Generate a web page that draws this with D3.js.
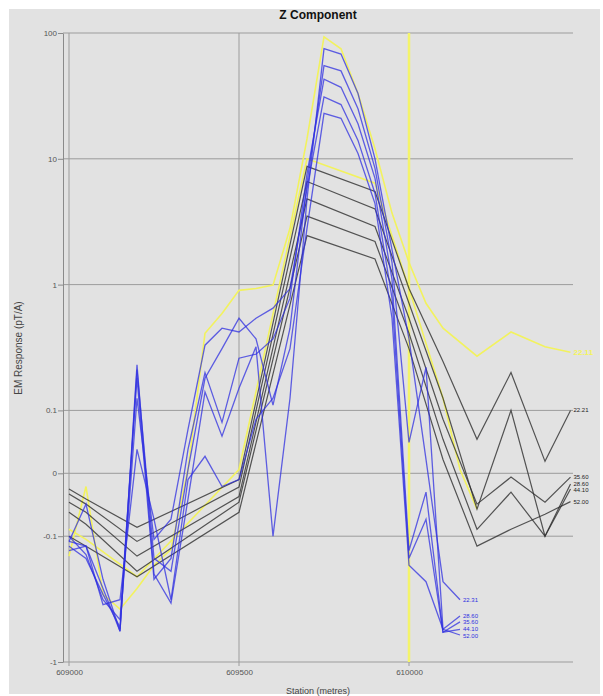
<!DOCTYPE html>
<html>
<head>
<meta charset="utf-8">
<script src="https://d3js.org/d3.v7.min.js"></script>
<style>
body { margin: 0; background: #fff; }
text { font-family: "Liberation Sans", Arial, sans-serif; }
</style>
</head>
<body>
<svg width="603" height="696"></svg>
<script>
// axis ticks
var yTicks = [100, 10, 1, 0.1, 0, -0.1, -1];
var yTickLabels = ["100", "10", "1", "0.1", "0", "-0.1", "-1"];
var xTicks = [609000, 609500, 610000];

// blue channels (late time)
var blueStations = [609000, 609050, 609100, 609150, 609200, 609250, 609300, 609350, 609400, 609450,
  609500, 609550, 609600, 609650, 609700, 609750, 609800, 609850, 609900, 609950,
  610000, 610050, 610100, 610150];
var blue1 = [-0.11, -0.049, -0.22, -0.57, 0.23, -0.20, -0.34, -0.041, 0.14, 0.059,
  0.15, 0.32, -0.10, 0.125, 4.8, 75, 68, 33, 10, 1.9, 0.37, 0.022, -0.23, -0.32];
var blue2 = [-0.11, -0.12, -0.26, -0.57, 0.21, -0.15, -0.19, 0.006, 0.18, 0.31,
  0.54, 0.37, 0.11, 0.45, 6.4, 55, 50, 25, 8.4, 1.5, 0.049, 0.22, -0.55, -0.43];
var blue3 = [-0.10, -0.14, -0.32, -0.46, 0.18, -0.22, -0.15, 0.038, 0.20, 0.081,
  0.26, 0.28, 0.37, 0.78, 7.6, 43, 37, 19, 7.0, 1.1, -0.13, -0.030, -0.58, -0.48];
var blue4 = [-0.12, -0.15, -0.29, -0.53, 0.125, -0.106, -0.073, 0.070, 0.33, 0.45,
  0.42, 0.54, 0.65, 0.93, 5.8, 31, 27, 14, 5.3, 0.78, -0.15, -0.073, -0.58, -0.55];
var blue5 = [-0.13, -0.12, -0.35, -0.32, 0.038, -0.073, -0.32, -0.010, 0.027, -0.021,
  -0.010, 0.086, 0.125, 0.31, 2.8, 23, 21, 11, 4.4, 0.54, -0.17, -0.23, -0.55, -0.61];
var blueLabels = ["22.31", "28.60", "35.60", "44.10", "52.00"];

// black channels
var blackStations = [609000, 609050, 609200, 609500, 609700, 609900, 610000, 610100, 610200, 610300, 610400, 610475];
var black1 = [-0.025, -0.041, -0.086, -0.010, 8.7, 5.5, 0.93, 0.245, 0.054, 0.20, 0.019, 0.10];
var black2 = [-0.033, -0.049, -0.11, -0.022, 6.6, 4.0, 0.71, 0.125, -0.057, 0.10, -0.10, -0.017];
var black3 = [-0.046, -0.062, -0.144, -0.037, 4.8, 2.9, 0.54, 0.086, -0.049, -0.006, -0.046, -0.006];
var black4 = [-0.062, -0.081, -0.19, -0.046, 3.5, 2.2, 0.41, 0.054, -0.089, -0.030, -0.10, -0.025];
var black5 = [-0.10, -0.12, -0.21, -0.062, 2.45, 1.6, 0.31, 0.022, -0.12, -0.089, -0.065, -0.045];
var blackLabels = ["22.21", "28.60", "35.60", "44.10", "52.00"];

// yellow channels
var yellowStations = [609000, 609050, 609100, 609150, 609200, 609250, 609300, 609350, 609400, 609450,
  609500, 609550, 609600, 609650, 609700, 609750, 609800, 609850, 609900, 609950,
  610000, 610050, 610100, 610200, 610300, 610400, 610475];
var yellowUpper = [-0.144, -0.021, -0.29, -0.38, -0.26, -0.17, -0.127, 0.006, 0.41, 0.59,
  0.90, 0.93, 0.99, 2.8, 14.4, 93, 75, 33, 12, 3.7, 1.5, 0.71, 0.45, 0.27, 0.42, 0.32, 0.29];
var yellowLowerStations = [609000, 609050, 609200, 609500, 609700, 609900, 610000, 610100, 610150, 610200];
var yellowLower = [-0.089, -0.106, -0.21, 0.006, 10, 6.4, 0.93, 0.125, 0.006, -0.057];
var markerStation = 610000;

var svg = d3.select("svg");

// background panel
svg.append("rect").attr("x", 9).attr("y", 9).attr("width", 591).attr("height", 685).attr("fill", "#e2e2e2");

// scales (symmetric log: log above 0.1, linear in between)
function tf(v) {
  if (v >= 0.1) return Math.log10(v) + 1.5;
  if (v <= -0.1) return -(Math.log10(-v) + 1.5);
  return v * 5;
}
var x = d3.scaleLinear().domain([609000, 610500]).range([69, 579]);
var y = d3.scaleLinear().domain([-1.5, 3.5]).range([662, 33]);
function yv(v) { return y(tf(v)); }
var left = 63, right = 573;

// grid
svg.append("g").selectAll("line").data(yTicks).enter().append("line")
  .attr("x1", left).attr("x2", right)
  .attr("y1", function(d) { return yv(d); }).attr("y2", function(d) { return yv(d); })
  .style("stroke", "#9c9c9c").style("stroke-width", 1);
svg.append("g").selectAll("line").data(xTicks).enter().append("line")
  .attr("x1", function(d) { return x(d); }).attr("x2", function(d) { return x(d); })
  .attr("y1", 33).attr("y2", 666)
  .style("stroke", "#9c9c9c").style("stroke-width", 1);

// axes
var yAxis = svg.append("g").attr("transform", "translate(" + left + ",0)")
  .call(d3.axisLeft(y).tickValues(yTicks.map(tf)).tickSize(5).tickSizeOuter(0)
    .tickFormat(function(d, i) { return yTickLabels[i]; }));
yAxis.select(".domain").style("stroke", "#8a8a8a");
yAxis.selectAll(".tick line").style("stroke", "#8a8a8a");
yAxis.selectAll("text").style("font-size", "8px").style("fill", "#555").attr("x", -6);

var xAxis = svg.append("g").attr("transform", "translate(0,662)")
  .call(d3.axisBottom(x).tickValues(xTicks).tickSize(0).tickFormat(d3.format("d")));
xAxis.select(".domain").remove();
xAxis.selectAll("text").style("font-size", "8px").style("fill", "#555").attr("dy", "1.3em");

// marker line at current station
svg.append("line")
  .attr("x1", x(markerStation)).attr("x2", x(markerStation))
  .attr("y1", 33).attr("y2", 662)
  .style("stroke", "#f4f46a").style("stroke-width", 2.5);

function series(stations, values) {
  return stations.map(function(s, i) { return [s, values[i]]; });
}
var line = d3.line()
  .x(function(d) { return x(d[0]); })
  .y(function(d) { return yv(d[1]); });

// yellow
svg.append("g").selectAll("path")
  .data([series(yellowStations, yellowUpper), series(yellowLowerStations, yellowLower)])
  .enter().append("path")
  .attr("d", line)
  .style("fill", "none").style("stroke", "#f2f25e").style("stroke-width", 1.6);

// black
var blackData = [black1, black2, black3, black4, black5].map(function(v) { return series(blackStations, v); });
svg.append("g").selectAll("path").data(blackData).enter().append("path")
  .attr("d", line)
  .style("fill", "none").style("stroke", "#2e2e2e").style("stroke-width", 1.2).style("opacity", 0.8);

// blue
var blueData = [blue1, blue2, blue3, blue4, blue5].map(function(v) { return series(blueStations, v); });
svg.append("g").selectAll("path").data(blueData).enter().append("path")
  .attr("d", line)
  .style("fill", "none").style("stroke", "#2f2fe0").style("stroke-width", 1.3).style("opacity", 0.75);

// end labels, pushed apart so they stack without overlapping
function labelPositions(data, gap) {
  var items = data.map(function(d, i) { return { i: i, y: yv(d[d.length - 1][1]) + 2 }; });
  items.sort(function(a, b) { return a.y - b.y; });
  for (var k = 1; k < items.length; k++) {
    if (items[k].y - items[k - 1].y < gap) items[k].y = items[k - 1].y + gap;
  }
  var out = [];
  items.forEach(function(it) { out[it.i] = it.y; });
  return out;
}
var blackLabelY = labelPositions(blackData, 6.5);
var blueLabelY = labelPositions(blueData, 6.5);

svg.append("g").selectAll("text").data(blackData).enter().append("text")
  .attr("x", function(d) { return x(d[d.length - 1][0]) + 3; })
  .attr("y", function(d, i) { return blackLabelY[i]; })
  .text(function(d, i) { return blackLabels[i]; })
  .style("font-size", "6px").style("fill", "#222");
svg.append("g").selectAll("text").data(blueData).enter().append("text")
  .attr("x", function(d) { return x(d[d.length - 1][0]) + 3; })
  .attr("y", function(d, i) { return blueLabelY[i]; })
  .text(function(d, i) { return blueLabels[i]; })
  .style("font-size", "6px").style("fill", "#2f2fe0");
svg.append("text")
  .attr("x", x(yellowStations[yellowStations.length - 1]) + 3)
  .attr("y", yv(yellowUpper[yellowUpper.length - 1]) + 3)
  .text("22.11")
  .style("font-size", "8px").style("font-weight", "bold").style("fill", "#f4f45c");

// titles
svg.append("text").attr("x", 318).attr("y", 19).attr("text-anchor", "middle")
  .text("Z Component").style("font-size", "12px").style("font-weight", "bold").style("fill", "#111");
svg.append("text").attr("x", 318).attr("y", 694).attr("text-anchor", "middle")
  .text("Station (metres)").style("font-size", "9px").style("fill", "#444");
svg.append("text").attr("transform", "translate(22,348) rotate(-90)").attr("text-anchor", "middle")
  .text("EM Response (pT/A)").style("font-size", "10px").style("fill", "#444");
</script>
</body>
</html>
